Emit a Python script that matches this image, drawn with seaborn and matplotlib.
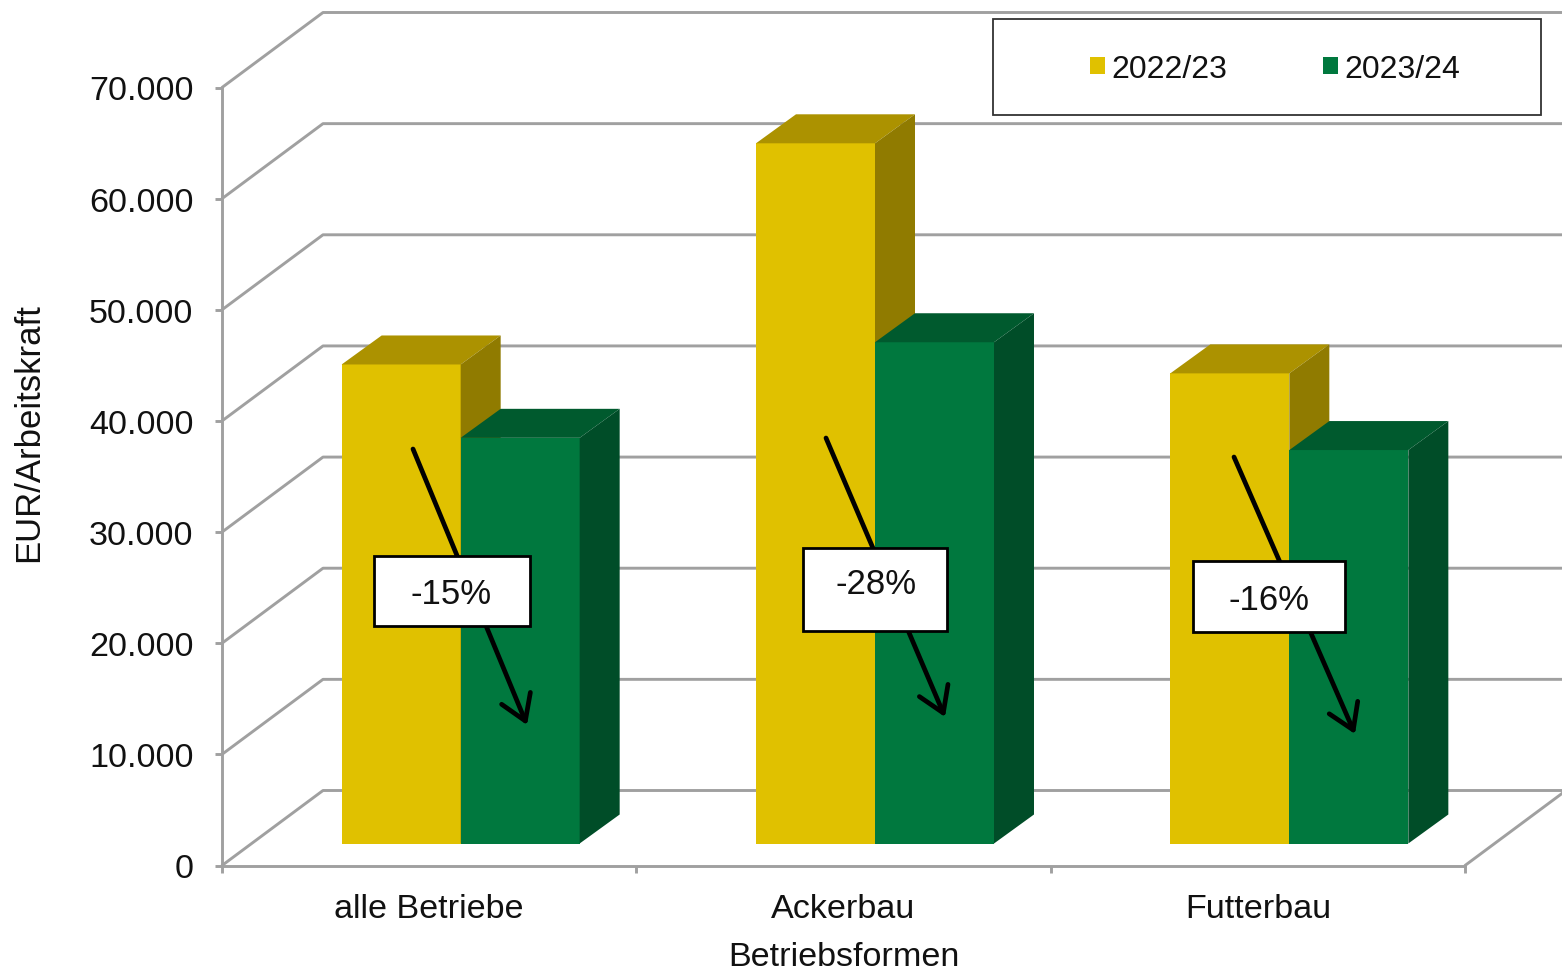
"""Einkommen je Arbeitskraft nach Betriebsform, als 3D-Saeulen nachgebaut."""
import matplotlib
matplotlib.use('Agg')
import matplotlib.pyplot as plt
import pandas as pd
import seaborn as sns
from matplotlib.lines import Line2D
from matplotlib.patches import FancyArrowPatch, Polygon, Rectangle
from matplotlib.transforms import Affine2D

# --- Daten ---
betriebsformen = ['alle Betriebe', 'Ackerbau', 'Futterbau']
jahre = ['2022/23', '2023/24']
werte_2022 = [43100, 63000, 42300]
werte_2023 = [36500, 45100, 35400]
aenderung = ['-15%', '-28%', '-16%']
y_ticks = [0, 10000, 20000, 30000, 40000, 50000, 60000, 70000]
y_labels = ['0', '10.000', '20.000', '30.000', '40.000', '50.000', '60.000', '70.000']

GELB, GELB_OBEN, GELB_SEITE = '#E0C100', '#AC9200', '#907B00'
GRUEN, GRUEN_OBEN, GRUEN_SEITE = '#00783E', '#005A2E', '#004D28'
GRAU = '#A0A0A0'
TEXT = '#111111'
LW = 2.1

sns.set_style('white')
plt.rcParams['font.family'] = ['Liberation Sans', 'DejaVu Sans']

W, H = 1562, 970
fig = plt.figure(figsize=(W / 100, H / 100), dpi=100)

# Pixelkoordinaten von oben links
px = Affine2D().scale(1, -1).translate(0, H)


def achse(links, rechts, unten, oben):
    a = fig.add_axes([links / W, 1 - unten / H, (rechts - links) / W, (unten - oben) / H])
    a.patch.set_alpha(0)
    return a


# Vorderebene mit den Achsen
X0, X1, Y0, Y1 = 222, 1465, 866.5, 88.5
ax = achse(X0, X1, Y0, Y1)
ax.set_xlim(-0.5, 2.5)
ax.set_ylim(0, 70000)
ax.set_yticks(y_ticks, y_labels)
ax.set_xticks(range(3), betriebsformen)
ax.set_xticks([-0.5, 0.5, 1.5, 2.5], minor=True)
ax.tick_params(axis='y', length=5, width=LW, color=GRAU, pad=15.5, labelsize=24.6,
               labelcolor=TEXT, left=True)
ax.tick_params(axis='x', which='major', length=0, pad=20, labelsize=24.6, labelcolor=TEXT)
ax.tick_params(axis='x', which='minor', length=5, width=LW, color=GRAU, bottom=True)
sns.despine(ax=ax)
for s in ['left', 'bottom']:
    ax.spines[s].set_color(GRAU)
    ax.spines[s].set_linewidth(LW)
ax.set_xlabel('Betriebsformen', fontsize=24.6, color=TEXT, va='center')
ax.xaxis.set_label_coords(0.5004, -0.117)
ax.set_ylabel('EUR/Arbeitskraft', fontsize=25, color=TEXT, va='center')
ax.yaxis.set_label_coords((29 - X0) / (X1 - X0), 0.558)

# Rueckwand und Boden
TIEFE_X, TIEFE_Y = 101, 75
for v in y_ticks:
    y = Y0 - v * (Y0 - Y1) / 70000
    fig.add_artist(Line2D([X0, X0 + TIEFE_X, W + 5], [y, y - TIEFE_Y, y - TIEFE_Y],
                          transform=px, color=GRAU, lw=LW, zorder=-1))
fig.add_artist(Line2D([X1, X1 + TIEFE_X], [Y0, Y0 - TIEFE_Y], transform=px,
                      color=GRAU, lw=LW, zorder=-1))

# Saeulen stehen etwas hinter der Vorderebene
ax_bars = achse(X0 + 31.5, X1 + 31.5, Y0 - 22, Y1 - 22)
df = pd.DataFrame({
    'betriebsform': betriebsformen * 2,
    'jahr': [jahre[0]] * 3 + [jahre[1]] * 3,
    'wert': werte_2022 + werte_2023,
})
sns.barplot(data=df, x='betriebsform', y='wert', hue='jahr', hue_order=jahre,
            palette=[GELB, GRUEN], width=238 / 414.33, gap=0, saturation=1,
            ax=ax_bars, legend=True, linewidth=0)
ax_bars.set_xlim(-0.5, 2.5)
ax_bars.set_ylim(0, 70000)
handles, labels = ax_bars.get_legend_handles_labels()
ax_bars.get_legend().remove()
ax_bars.axis('off')

# Deck- und Seitenflaechen
dx = 40 / 414.33
dy = 29 * 70000 / 778
faces = [(GELB_OBEN, GELB_SEITE, 2), (GRUEN_OBEN, GRUEN_SEITE, 3)]
for container, (oben, seite, z) in zip(ax_bars.containers, faces):
    for bar in container:
        bar.set_zorder(z)
        bar.set_clip_on(False)
        x, b = bar.get_x(), bar.get_width()
        h = bar.get_height()
        ax_bars.add_patch(Polygon([(x, h), (x + b, h), (x + b + dx, h + dy), (x + dx, h + dy)],
                                  fc=oben, ec='none', zorder=z, clip_on=False))
        ax_bars.add_patch(Polygon([(x + b, 0), (x + b + dx, dy), (x + b + dx, h + dy), (x + b, h)],
                                  fc=seite, ec='none', zorder=z, clip_on=False))

# Legende im Rahmen
fig.add_artist(Rectangle((993, 20), 548, 96, transform=px, fc='white', ec='#333333',
                         lw=1.3, zorder=5))
leg = fig.legend(handles, labels, ncol=2, frameon=False, fontsize=23,
                 loc='center', bbox_to_anchor=(1275 / W, 1 - 70 / H),
                 handlelength=0.47, handleheight=0.47,
                 handletextpad=0.2, columnspacing=2.98, labelcolor=TEXT)
leg.set_zorder(6)

# Pfeile mit Prozentkaesten
pfeile = [((413, 450), (527, 726)), ((826, 439), (945, 718)), ((1234, 458), (1355, 735))]
kaesten = [(374, 557, 156, 70), (803, 549, 144, 83), (1193, 562, 152, 71)]
text_pos = [(451, 595), (876, 585), (1269, 600)]
for (start, ende), (kx, ky, kb, kh), (tx, ty), label in zip(pfeile, kaesten, text_pos, aenderung):
    fig.add_artist(FancyArrowPatch(start, ende, transform=px, arrowstyle='->,head_length=11,head_width=7',
                                   mutation_scale=1.6, lw=3.4, color='black', shrinkA=0, shrinkB=0,
                                   zorder=7))
    fig.add_artist(Rectangle((kx, ky), kb, kh, transform=px, fc='white', ec='black', lw=2, zorder=8))
    fig.text(tx / W, 1 - ty / H, label, ha='center', va='center', fontsize=25, color=TEXT, zorder=9)

fig.savefig('out.png', dpi=100)
